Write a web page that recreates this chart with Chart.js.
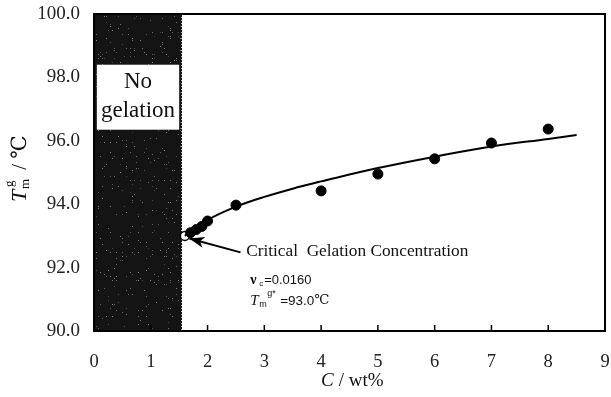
<!DOCTYPE html>
<html>
<head>
<meta charset="utf-8">
<script src="https://cdn.jsdelivr.net/npm/chart.js@4/dist/chart.umd.min.js"></script>
<style>
  body { margin: 0; background: #fff; }
  #wrap { width: 611px; height: 397px; }
</style>
</head>
<body>
<div id="wrap"><canvas id="grafico" width="611" height="397"></canvas></div>
<script>
// datos
const concX = [1.7, 1.8, 1.9, 2.0, 2.5, 4.0, 5.0, 6.0, 7.0, 8.0];
const tempY = [93.1, 93.2, 93.3, 93.47, 93.97, 94.42, 94.95, 95.43, 95.93, 96.37];
const criticoX = [1.6];
const criticoY = [93.0];
const ajusteX = [1.6, 2.0, 2.5, 3.0, 3.6, 4.0, 5.0, 6.0, 7.0, 8.0, 8.5];
const ajusteY = [93.0, 93.5, 93.92, 94.23, 94.54, 94.72, 95.14, 95.5, 95.82, 96.06, 96.18];
const zonaSinGel = [0, 1.55];
const xTicks = [0, 1, 2, 3, 4, 5, 6, 7, 8, 9];
const yTicks = [90, 92, 94, 96, 98, 100];

const serif = "'Liberation Serif', 'DejaVu Serif', serif";
const sans = "'Liberation Sans', Arial, sans-serif";

const puntos = (xs, ys) => xs.map((x, i) => ({x: x, y: ys[i]}));

// ruido fijo para la zona oscura (patron, no datos)
function ruido(i) {
  const s = Math.sin(i * 12.9898) * 43758.5453;
  return s - Math.floor(s);
}

const decoracion = {
  id: 'decoracion',
  beforeDatasetsDraw(chart) {
    const {ctx, scales: {x, y}} = chart;
    const x0 = x.getPixelForValue(zonaSinGel[0]);
    const x1 = x.getPixelForValue(zonaSinGel[1]);
    const top = y.getPixelForValue(100);
    const bot = y.getPixelForValue(90);
    ctx.save();
    ctx.fillStyle = '#141414';
    ctx.fillRect(x0, top, x1 - x0, bot - top);
    // textura
    let k = 0;
    for (let px = x0 + 2; px < x1; px += 2) {
      for (let py = top + 2; py < bot; py += 2) {
        k++;
        const r = ruido(k);
        if (r > 0.93) {
          ctx.fillStyle = 'rgba(200,200,200,' + (0.25 + (r - 0.93) * 6) + ')';
          ctx.fillRect(px, py, 1, 1);
        }
      }
    }
    // borde punteado derecho
    ctx.fillStyle = '#bbb';
    for (let py = top; py < bot; py += 3) ctx.fillRect(x1 - 1, py, 1, 1);
    // caja blanca
    const bx0 = x.getPixelForValue(0.05), bx1 = x.getPixelForValue(1.5);
    const by0 = y.getPixelForValue(98.4), by1 = y.getPixelForValue(96.35);
    ctx.fillStyle = '#fff';
    ctx.fillRect(bx0, by0, bx1 - bx0, by1 - by0);
    ctx.fillStyle = '#111';
    ctx.font = '23px ' + serif;
    ctx.textAlign = 'center';
    ctx.textBaseline = 'middle';
    const cx = (bx0 + bx1) / 2;
    ctx.fillText('No', cx, y.getPixelForValue(97.85));
    ctx.fillText('gelation', cx, y.getPixelForValue(96.95));
    ctx.restore();
  },
  afterDraw(chart) {
    const {ctx, scales: {x, y}, chartArea: a} = chart;
    ctx.save();
    // marco
    ctx.strokeStyle = '#000';
    ctx.lineWidth = 2;
    ctx.strokeRect(a.left, a.top, a.right - a.left, a.bottom - a.top);
    // marcas hacia dentro
    ctx.lineWidth = 1.5;
    xTicks.forEach(v => {
      const px = x.getPixelForValue(v);
      ctx.beginPath();
      ctx.moveTo(px, a.bottom);
      ctx.lineTo(px, a.bottom - 6);
      ctx.stroke();
    });
    // flecha
    const tx = x.getPixelForValue(1.68), ty = y.getPixelForValue(92.92);
    const sx = x.getPixelForValue(2.58), sy = y.getPixelForValue(92.48);
    ctx.lineWidth = 2;
    ctx.beginPath();
    ctx.moveTo(sx, sy);
    ctx.lineTo(tx, ty);
    ctx.stroke();
    const ang = Math.atan2(sy - ty, sx - tx);
    ctx.fillStyle = '#000';
    ctx.beginPath();
    ctx.moveTo(tx, ty);
    ctx.lineTo(tx + 16 * Math.cos(ang - 0.35), ty + 16 * Math.sin(ang - 0.35));
    ctx.lineTo(tx + 11 * Math.cos(ang), ty + 11 * Math.sin(ang));
    ctx.lineTo(tx + 16 * Math.cos(ang + 0.35), ty + 16 * Math.sin(ang + 0.35));
    ctx.closePath();
    ctx.fill();
    // textos
    ctx.fillStyle = '#111';
    ctx.textBaseline = 'middle';
    ctx.textAlign = 'left';
    ctx.font = '17.3px ' + serif;
    ctx.fillText('Critical  Gelation Concentration', x.getPixelForValue(2.68), y.getPixelForValue(92.5));
    const l1 = x.getPixelForValue(2.75);
    ctx.font = 'bold 14px ' + serif;
    ctx.fillText('ν', l1, y.getPixelForValue(91.6));
    ctx.font = '8px ' + sans;
    ctx.fillText('c', l1 + 9, y.getPixelForValue(91.5));
    ctx.font = '13px ' + sans;
    ctx.fillText('=0.0160', l1 + 14, y.getPixelForValue(91.6));
    const ly = y.getPixelForValue(90.95);
    ctx.font = 'italic 15px ' + serif;
    ctx.fillText('T', l1, ly);
    ctx.font = '9px ' + sans;
    ctx.fillText('m', l1 + 9, ly + 4);
    ctx.fillText('g*', l1 + 17, ly - 7);
    ctx.font = '13.5px ' + sans;
    ctx.fillText('=93.0', l1 + 30, ly);
    const w = ctx.measureText('=93.0').width;
    ctx.font = '13.5px ' + serif;
    ctx.fillText('℃', l1 + 30 + w, ly);
    // titulo eje x
    ctx.textAlign = 'left';
    ctx.font = 'italic 19px ' + serif;
    ctx.fillText('C', 321, 381);
    ctx.font = '19px ' + serif;
    ctx.fillText(' / wt%', 334, 381);
    // titulo eje y (girado)
    ctx.translate(20, 168);
    ctx.rotate(-Math.PI / 2);
    ctx.textAlign = 'left';
    ctx.font = 'italic 22px ' + serif;
    ctx.fillText('T', -34, 0);
    ctx.font = '13px ' + serif;
    ctx.fillText('m', -21, 6);
    ctx.fillText('g', -19, -10);
    ctx.font = '21px ' + serif;
    ctx.fillText(' / ℃', -7, 0);
    ctx.restore();
  }
};

new Chart(document.getElementById('grafico').getContext('2d'), {
  type: 'scatter',
  data: {
    datasets: [
      {
        label: 'ajuste',
        data: puntos(ajusteX, ajusteY),
        showLine: true,
        borderColor: '#000',
        borderWidth: 2,
        pointRadius: 0,
        tension: 0.4
      },
      {
        label: 'datos',
        data: puntos(concX, tempY),
        backgroundColor: '#000',
        borderColor: '#000',
        pointRadius: 5
      },
      {
        label: 'critico',
        data: puntos(criticoX, criticoY),
        backgroundColor: '#fff',
        borderColor: '#000',
        borderWidth: 1.5,
        pointRadius: 4.5
      }
    ]
  },
  options: {
    responsive: false,
    animation: false,
    layout: { padding: { top: 14, right: 4, left: 0, bottom: 0 } },
    plugins: { legend: { display: false }, tooltip: { enabled: false } },
    scales: {
      x: {
        type: 'linear',
        min: 0,
        max: 9,
        afterBuildTicks: s => { s.ticks = xTicks.map(v => ({value: v})); },
        afterFit: s => { s.height = 66; s.paddingLeft = 0; s.paddingRight = 0; },
        grid: { display: false },
        border: { display: false },
        ticks: { color: '#222', font: { family: serif, size: 18.5 }, padding: 12 }
      },
      y: {
        type: 'linear',
        min: 90,
        max: 100,
        afterBuildTicks: s => { s.ticks = yTicks.map(v => ({value: v})); },
        afterFit: s => { s.width = 94; s.paddingTop = 0; s.paddingBottom = 0; },
        grid: { display: false },
        border: { display: false },
        ticks: {
          color: '#222',
          font: { family: serif, size: 19 },
          padding: 6,
          callback: v => Number(v).toFixed(1)
        }
      }
    }
  },
  plugins: [decoracion]
});
</script>
</body>
</html>
